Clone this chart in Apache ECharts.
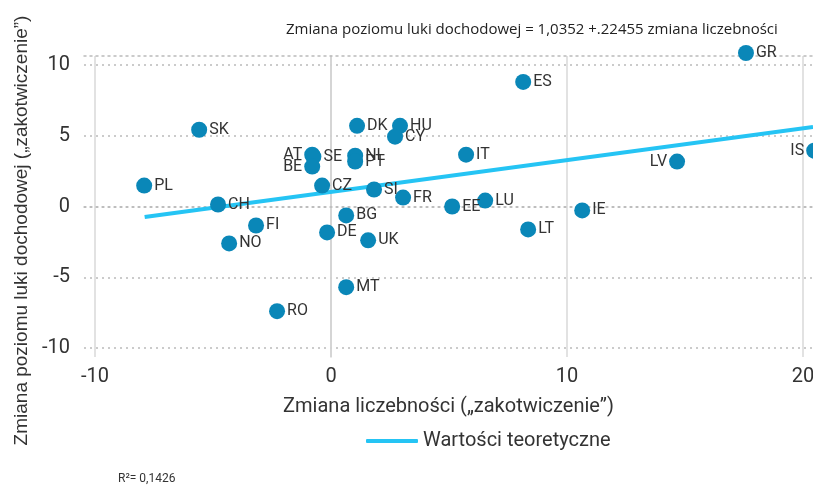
<!DOCTYPE html>
<html>
<head>
<meta charset="utf-8">
<script src="https://cdn.jsdelivr.net/npm/echarts@6/dist/echarts.min.js"></script>
<style>
  html, body { margin: 0; padding: 0; background: #fff; }
  #chart { width: 813px; height: 488px; }
</style>
</head>
<body>
<div id="chart"></div>
<script>
// dane
const countries = ["PL", "SK", "CH", "FI", "NO", "RO", "AT", "SE", "BE", "CZ", "DK", "HU", "CY", "NL", "PT", "IT", "ES", "GR", "LV", "IS", "SI", "FR", "EE", "LU", "LT", "IE", "BG", "DE", "UK", "MT"];
const xValues = [-7.92, -5.59, -4.79, -3.18, -4.32, -2.29, -0.80, -0.75, -0.80, -0.38, 1.10, 2.92, 2.71, 1.02, 1.02, 5.72, 8.14, 17.58, 14.66, 20.47, 1.82, 3.05, 5.13, 6.53, 8.35, 10.64, 0.64, -0.17, 1.57, 0.64];
const yValues = [1.48, 5.42, 0.14, -1.34, -2.61, -7.39, 3.66, 3.52, 2.82, 1.48, 5.70, 5.70, 4.93, 3.59, 3.17, 3.66, 8.80, 10.84, 3.17, 3.94, 1.20, 0.63, 0.00, 0.42, -1.62, -0.28, -0.63, -1.83, -2.39, -5.70];
const labelLeft = ["AT", "BE", "LV", "IS"];

// linia regresji (wartości teoretyczne)
const fitX = [-7.9, 20.42];
const fitY = [-0.74, 5.62];

const xTicks = [-10, 0, 10, 20];
const yTicks = [-10, -5, 0, 5, 10];

const narrow = "'Roboto', sans-serif";
const regular = "'Liberation Sans', 'Helvetica', sans-serif";

const chart = echarts.init(document.getElementById("chart"));

const points = countries.map(function (c, i) {
  return {
    name: c,
    value: [xValues[i], yValues[i]],
    label: { position: labelLeft.indexOf(c) >= 0 ? "left" : "right" }
  };
});

chart.setOption({
  animation: false,
  title: {
    text: "Zmiana poziomu luki dochodowej = 1,0352 +.22455 zmiana liczebności",
    left: 281,
    top: 17,
    textStyle: { fontFamily: "'Open Sans', sans-serif", fontSize: 15, fontWeight: "normal", color: "#222" }
  },
  grid: { left: 84, right: 0, top: 56, bottom: 131, outerBoundsMode: "none", containLabel: false },
  legend: {
    data: ["Wartości teoretyczne"],
    left: 361,
    top: 426,
    icon: "roundRect",
    itemWidth: 52,
    itemHeight: 4,
    itemGap: 10,
    textStyle: { fontFamily: narrow, fontSize: 20, color: "#333" }
  },
  graphic: [{
    type: "text",
    left: 118,
    top: 473,
    style: { text: "R²= 0,1426", font: "12px " + narrow, fill: "#333" }
  }],
  xAxis: [{
    type: "value",
    min: -10.47,
    max: 20.42,
    name: "Zmiana liczebności („zakotwiczenie”)",
    nameLocation: "middle",
    nameGap: 40,
    nameTextStyle: { fontFamily: narrow, fontSize: 20, color: "#333" },
    axisLine: { show: true, lineStyle: { color: "#bbb", width: 1.5, type: [2, 4] } },
    axisTick: { show: false, customValues: xTicks },
    axisLabel: { customValues: xTicks, margin: 10, fontFamily: narrow, fontSize: 20, color: "#333", hideOverlap: false },
    splitLine: { show: true, lineStyle: { color: "#d9d9d9", width: 1.5 } }
  }, {
    type: "value",
    position: "top",
    min: -10.47,
    max: 20.42,
    axisLine: { show: true, lineStyle: { color: "#bbb", width: 1.5, type: [2, 4] } },
    axisTick: { show: false },
    axisLabel: { show: false },
    splitLine: { show: false }
  }],
  yAxis: {
    type: "value",
    min: -10.63,
    max: 10.63,
    name: "Zmiana poziomu luki dochodowej („zakotwiczenie”)",
    nameLocation: "middle",
    nameGap: 52,
    nameTextStyle: { fontFamily: regular, fontSize: 19, color: "#333", padding: [0, 48, 0, 0] },
    axisLine: { show: true, lineStyle: { color: "#d0d0d0", width: 1.5 } },
    axisTick: { show: false, customValues: yTicks },
    axisLabel: { customValues: yTicks, margin: 14, fontFamily: narrow, fontSize: 20, color: "#333" },
    splitLine: { show: true, lineStyle: { color: "#bbb", width: 1.5, type: [2, 4] } }
  },
  series: [{
    name: "Wartości teoretyczne",
    type: "line",
    data: fitX.map(function (x, i) { return [x, fitY[i]]; }),
    symbol: "none",
    clip: false,
    z: 2,
    lineStyle: { color: "#25c4f4", width: 4 },
    itemStyle: { color: "#25c4f4" }
  }, {
    name: "Kraje",
    type: "scatter",
    data: points,
    symbolSize: 16,
    clip: false,
    z: 3,
    itemStyle: { color: "#0a87b8", opacity: 1 },
    label: {
      show: true,
      formatter: "{b}",
      distance: 2,
      fontFamily: narrow,
      fontSize: 16,
      color: "#333"
    }
  }]
});
</script>
</body>
</html>
